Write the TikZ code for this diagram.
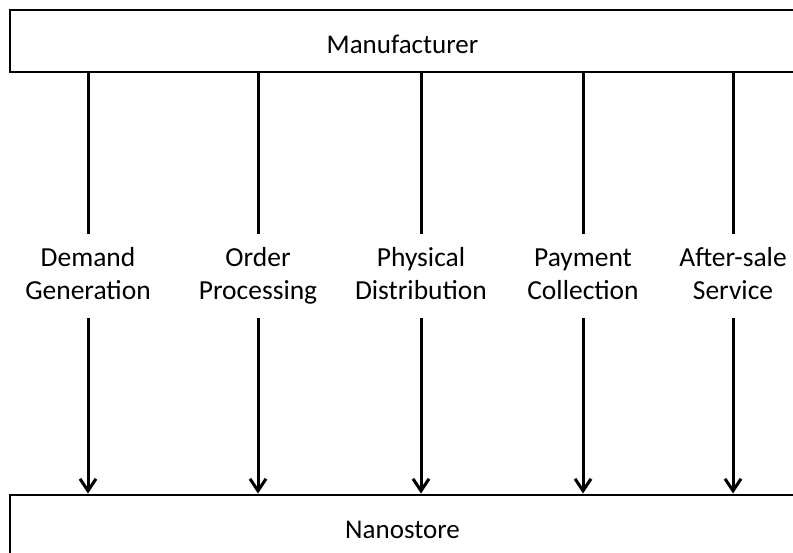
\documentclass[tikz,border=0pt]{standalone}
\usepackage{fontspec}
\setmainfont{Carlito}
\usetikzlibrary{arrows.meta}
\begin{document}
\begin{tikzpicture}[x=1pt,y=-1pt,
  box/.style={draw,line width=2pt,minimum width=785pt,inner sep=0pt,font=\fontsize{27}{33}\selectfont},
  lab/.style={align=center,font=\fontsize{27.5}{33}\selectfont,minimum height=92pt,inner sep=0pt},
  flow/.style={line width=3pt,shorten >=-4pt},
  arr/.style={line width=3pt,shorten <=-4pt,-{Straight Barb[length=12pt,width=16pt,line width=3pt]}}]
\useasboundingbox (0,0) rectangle (793,552);
\clip (0,0) rectangle (793,552);
\node[box,minimum height=62pt,text height=25pt,text depth=0pt] (man) at (402.5,41) {Manufacturer};
\node[box,minimum height=66pt,text height=22pt,text depth=0pt] (nano) at (402.5,527.5) {Nanostore};
\node[lab] (l1) at (88,276) {\strut Demand\\\strut Generation};
\node[lab] (l2) at (258,276) {\strut Order\\\strut Processing};
\node[lab] (l3) at (421,276) {\strut Physical\\\strut Distribution};
\node[lab] (l4) at (583,276) {\strut Payment\\\strut Collection};
\node[lab] (l5) at (733,276) {\strut After-sale\\\strut Service};
\foreach \i in {1,...,5}{
  \draw[flow] (man.south -| l\i.north) -- (l\i.north);
  \draw[arr] (l\i.south) -- (nano.north -| l\i.south);
}
\end{tikzpicture}
\end{document}
